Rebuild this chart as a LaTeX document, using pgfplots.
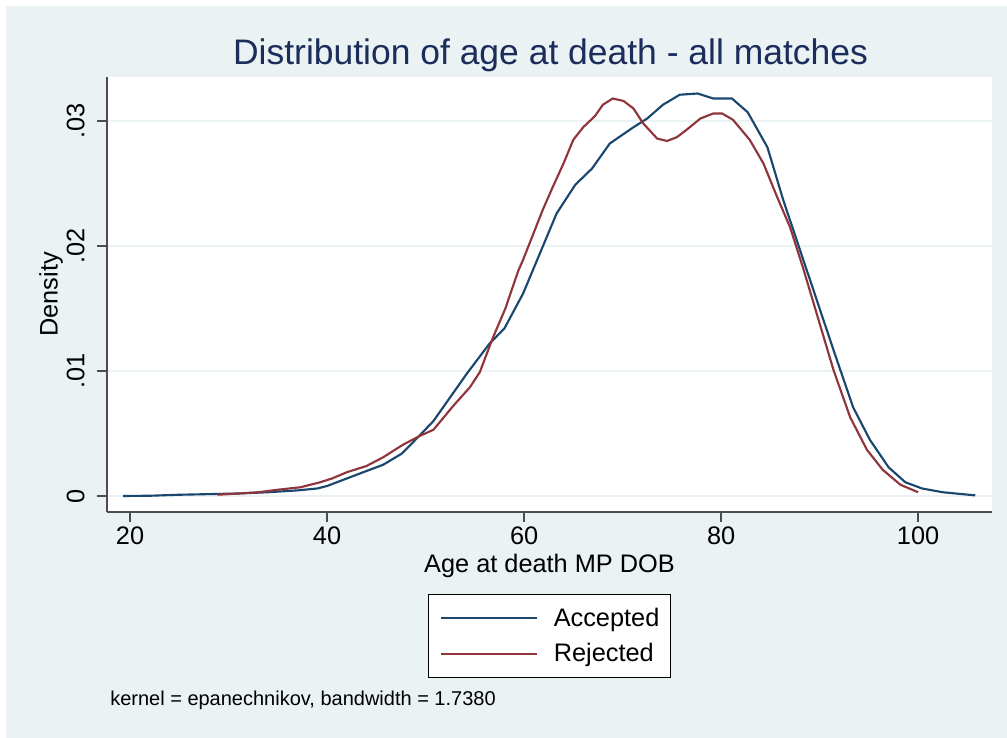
\documentclass[border=0pt]{standalone}
\usepackage{fontspec}
\setmainfont{Liberation Sans}
\usepackage{pgfplots}
\pgfplotsset{compat=1.18}
\definecolor{stBg}{HTML}{EAF2F3}
\definecolor{stNavy}{HTML}{1A476F}
\definecolor{stMaroon}{HTML}{90353B}
\definecolor{stTitle}{HTML}{1C2D5C}
\definecolor{stAxis}{HTML}{4D4D4D}

\begin{document}
\begin{tikzpicture}
  % page: 1007x738 px at 0.75pt per px
  \fill[white] (0,0) rectangle (755.25pt,553.5pt);
  \fill[stBg] (4.5pt,0) rectangle (755.25pt,549pt);
  \useasboundingbox (0,0) rectangle (755.25pt,553.5pt);

  \begin{axis}[
      at={(80.25pt,169.5pt)}, anchor=south west,
      scale only axis,
      width=663.75pt, height=326.25pt,
      xmin=17.66, xmax=107.5,
      ymin=-0.00128, ymax=0.03352,
      axis background/.style={fill=white},
      axis x line*=bottom, axis y line*=left,
      axis line style={line width=1pt, stAxis},
      tick style={line width=1pt, stAxis},
      tick align=outside,
      major tick length=7.5pt,
      xtick={20,40,60,80,100},
      xticklabels={20,40,60,80,100},
      ytick={0,0.01,0.02,0.03},
      yticklabels={0,.01,.02,.03},
      yticklabel style={rotate=90, anchor=south, inner ysep=9pt},
      ticklabel style={font=\fontsize{19}{22}\selectfont},
      label style={font=\fontsize{19}{22}\selectfont},
      xlabel={Age at death MP DOB},
      ylabel={Density},
      ylabel style={at={(axis description cs:-0.0633,0.5)}, anchor=center},
      ymajorgrids,
      grid style={line width=1.2pt, stBg},
      scaled y ticks=false,
      legend style={
        at={(0.5,-0.1885)}, anchor=north,
        draw=black, line width=0.8pt, fill=white,
        font=\fontsize{19}{22}\selectfont,
        inner xsep=8.5pt, inner ysep=8pt,
        row sep=7.5pt,
        nodes={inner xsep=0pt, inner ysep=2pt},
        /tikz/every odd column/.style={column sep=12pt},
      },
      legend cell align=left,
      legend image code/.code={\draw[#1, line width=1.6pt] (0pt,0pt) -- (72pt,0pt);},
    ]
    \addplot[stNavy, line width=1.6pt] coordinates {
      (19.3,0) (22,0.00002) (25,0.0001) (28,0.00015) (31,0.0002) (34,0.0003)
      (37,0.00045) (39,0.0006) (40,0.0008) (42,0.0014) (44,0.002) (45.7,0.0025)
      (47.6,0.0034) (49.1,0.0046) (50.8,0.006) (52.5,0.0079) (54.2,0.0098)
      (56.5,0.0122) (58,0.0134) (59.9,0.0162) (61.6,0.0194) (63.3,0.0226)
      (65.2,0.0249) (66.9,0.0262) (68.7,0.0282) (71.1,0.0295) (72.5,0.0302)
      (74.1,0.0313) (75.8,0.0321) (77.6,0.0322) (79.2,0.0318) (81.1,0.0318)
      (82.7,0.0307) (84.7,0.0279) (86.3,0.0237) (88.0,0.0197) (89.7,0.0157)
      (91.4,0.0117) (93.4,0.0071) (95.1,0.0045) (97.0,0.0023) (98.7,0.0011)
      (100.4,0.0006) (102.5,0.0003) (105.8,0.00005)
    };
    \addlegendentry{Accepted}
    \addplot[stMaroon, line width=1.6pt] coordinates {
      (28.9,0.0001) (31,0.0002) (33,0.0003) (35,0.0005) (37.3,0.0007)
      (39.3,0.0011) (40.5,0.0014) (42,0.0019) (44,0.0024) (45.7,0.0031)
      (47.7,0.0041) (49.4,0.0048) (50.8,0.0053) (52.8,0.0072) (54.5,0.0087)
      (55.5,0.0099) (56.8,0.0126) (58.1,0.0150) (59.4,0.0180) (59.9,0.0189)
      (61.9,0.0229) (62.9,0.0247) (64,0.0266) (65,0.0285) (66,0.0295)
      (67.2,0.0304) (68,0.0313) (69,0.0318) (70.1,0.0316) (71.1,0.0310)
      (72.1,0.0298) (73.5,0.0286) (74.5,0.0284) (75.5,0.0287) (76.5,0.0293)
      (77.9,0.0302) (79.2,0.0306) (80.1,0.0306) (81.2,0.0301) (82.9,0.0285)
      (84.3,0.0266) (85.7,0.0239) (87,0.0215) (88.3,0.0183) (89.7,0.0146)
      (91.4,0.0101) (93.1,0.0063) (94.8,0.0037) (96.4,0.0021) (98.2,0.0009)
      (100,0.0003)
    };
    \addlegendentry{Rejected}
  \end{axis}

  \node[anchor=base, font=\fontsize{26.6}{30}\selectfont, text=stTitle]
    at (412.9pt,504.75pt) {Distribution of age at death - all matches};
  \node[anchor=base west, font=\fontsize{15}{18}\selectfont, inner sep=0pt]
    at (82.5pt,24pt) {kernel = epanechnikov, bandwidth = 1.7380};
\end{tikzpicture}
\end{document}
